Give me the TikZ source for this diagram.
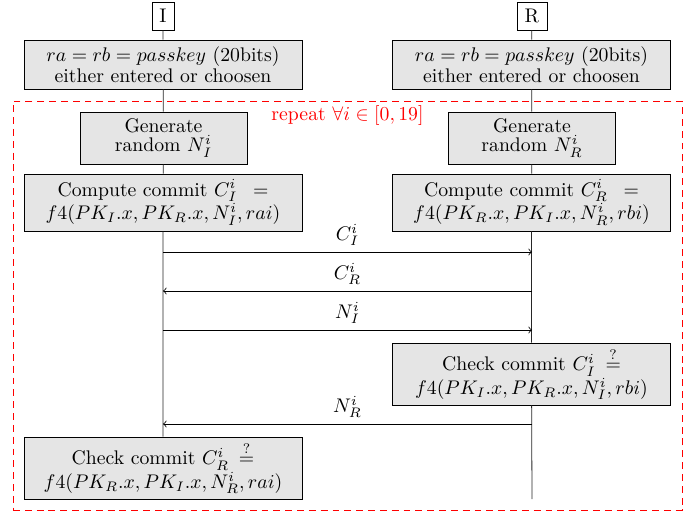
\documentclass[tikz,border=0pt]{standalone}
\begin{document}
\begin{tikzpicture}[x=0.507pt,y=-0.507pt,
  every node/.style={font={\baselineskip=0pt\lineskip=1pt\lineskiplimit=0pt}},
  actor/.style={draw, fill=white, inner sep=0pt, minimum height=14.2pt},
  procbox/.style={draw, fill=gray!20, align=center, inner sep=2pt, minimum width=140.9pt},
  genbox/.style={draw, fill=gray!20, align=center, inner sep=2pt, minimum width=84.7pt, minimum height=26.4pt},
  lifeline/.style={draw, black!85},
  msg/.style={->, >=to, black},
  msglabel/.style={above, inner sep=2pt, yshift=1pt},
  loopframe/.style={draw=red, dash pattern=on 3.5pt off 2.5pt, minimum width=339.2pt, minimum height=207.4pt}]
\useasboundingbox (0,0) rectangle (697,514);

% loop frame
\node[loopframe] (loop) at (347.5,305.5) {};
\node[red, anchor=north, inner sep=2.5pt] (rep) at (loop.north) {repeat $\forall i \in [0,19]$};

% actors
\node[actor, minimum width=11.2pt] (I) at (163,16) {I};
\node[actor, minimum width=15.2pt] (R) at (532,16) {R};

% passkey boxes
\node[procbox, minimum height=24.8pt] (pkI) at (163,64.5) {$ra = rb = passkey$ (20bits)\\either entered or choosen};
\node[procbox, minimum height=24.8pt] (pkR) at (531.5,64.5) {$ra = rb = passkey$ (20bits)\\either entered or choosen};

% generate boxes
\node[genbox] (genI) at (163.5,138) {Generate\\random $N_I^i$};
\node[genbox] (genR) at (532,138) {Generate\\random $N_R^i$};

% compute boxes
\node[procbox, minimum height=28.9pt] (compI) at (163,202.5) {Compute commit $C_I^i$\hspace{8pt}$=$\\$f4(PK_I.x, PK_R.x, N_I^i, rai)$};
\node[procbox, minimum height=28.9pt] (compR) at (531.5,202.5) {Compute commit $C_R^i$\hspace{8pt}$=$\\$f4(PK_R.x, PK_I.x, N_R^i, rbi)$};

% check boxes
\node[procbox, minimum height=31.4pt] (chkR) at (531.5,374) {Check commit $C_I^i$\hspace{5pt}$\stackrel{?}{=}$\\$f4(PK_I.x, PK_R.x, N_I^i, rbi)$};
\node[procbox, minimum height=31.4pt] (chkI) at (163,468) {Check commit $C_R^i$\hspace{5pt}$\stackrel{?}{=}$\\$f4(PK_R.x, PK_I.x, N_R^i, rai)$};

\coordinate (endR) at (532,499);

% lifelines
\path[lifeline] (I) -- (pkI) -- (genI) -- (compI) -- (chkI);
\path[lifeline] (R) -- (pkR) -- (genR) -- (compR) -- (chkR) -- (endR);

% message end points
\coordinate (m1a) at (163,252); \coordinate (m1b) at (532,252);
\coordinate (m2a) at (532,291); \coordinate (m2b) at (163,291);
\coordinate (m3a) at (163,330); \coordinate (m3b) at (532,330);
\coordinate (m4a) at (532,424); \coordinate (m4b) at (163,424);

\draw[msg] (m1a) -- node[msglabel] (l1) {$C_I^i$} (m1b);
\draw[msg] (m2a) -- node[msglabel] (l2) {$C_R^i$} (m2b);
\draw[msg] (m3a) -- node[msglabel] (l3) {$N_I^i$} (m3b);
\draw[msg] (m4a) -- node[msglabel] (l4) {$N_R^i$} (m4b);
\end{tikzpicture}
\end{document}
